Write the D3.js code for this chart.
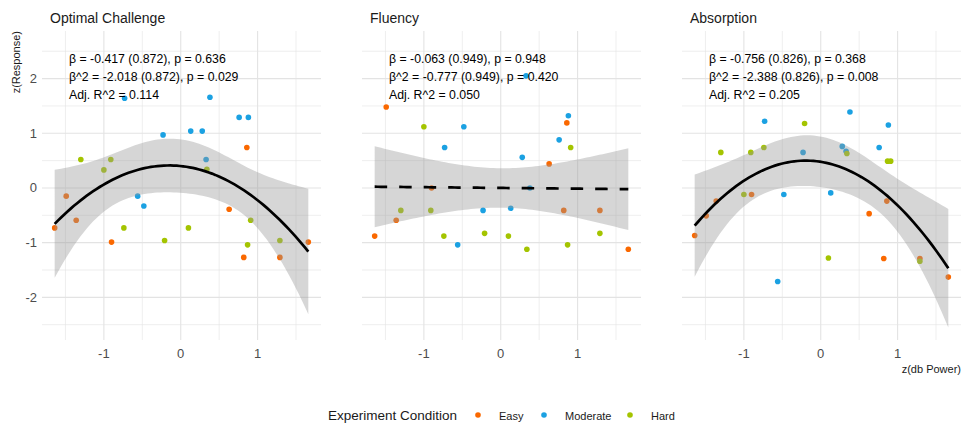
<!DOCTYPE html>
<html>
<head>
<meta charset="utf-8">
<script src="https://cdn.jsdelivr.net/npm/d3@7"></script>
<style>
  body { margin: 0; background: #fff; }
  text { font-family: "Liberation Sans", Arial, sans-serif; }
</style>
</head>
<body>
<svg id="chart" width="963" height="426"></svg>
<script>
// x (z dB power) per condition, shared by every panel
const easyX = [-1.64, -1.49, -1.36, -0.90, 0.63, 0.82, 0.86, 1.29, 1.66];
const moderateX = [-0.73, -0.56, -0.48, -0.23, 0.13, 0.28, 0.33, 0.38, 0.76, 0.88];
const hardX = [-1.30, -1.00, -0.91, -0.74, -0.21, 0.10, 0.34, 0.87, 0.91, 1.29];

// responses, same order as the x arrays
const challengeEasy = [-0.73, -0.15, -0.59, -0.99, -0.39, -1.27, 0.74, -1.27, -0.99];
const challengeModerate = [1.64, -0.15, -0.33, 0.97, 1.04, 1.04, 0.52, 1.66, 1.29, 1.29];
const challengeHard = [0.52, 0.33, 0.52, -0.73, -0.96, -0.73, 0.34, -1.04, -0.59, -0.96];

const fluencyEasy = [-0.88, 1.48, -0.59, 0.0, 0.44, -0.41, 1.19, -0.41, -1.12];
const fluencyModerate = [0.74, -1.04, 1.12, -0.41, -0.37, 0.56, 2.05, 0.0, 0.88, 1.32];
const fluencyHard = [-0.41, 1.12, -0.41, -0.88, -0.83, -0.88, -1.12, -1.04, 0.74, -0.83];

const absorptionEasy = [-0.87, -0.51, -0.24, -0.12, -0.47, -1.29, -0.24, -1.29, -1.63];
const absorptionModerate = [1.22, -1.71, -0.12, 0.65, -0.09, 0.76, 0.67, 1.39, 0.74, 1.15];
const absorptionHard = [0.65, -0.12, 0.65, 0.74, 1.18, -1.28, 0.63, 0.49, 0.49, -1.34];

const panelTitles = ['Optimal Challenge', 'Fluency', 'Absorption'];
const panelNotes = [
  ['β = -0.417 (0.872), p = 0.636', 'β^2 = -2.018 (0.872), p = 0.029', 'Adj. R^2 = 0.114'],
  ['β = -0.063 (0.949), p = 0.948', 'β^2 = -0.777 (0.949), p = 0.420', 'Adj. R^2 = 0.050'],
  ['β = -0.756 (0.826), p = 0.368', 'β^2 = -2.388 (0.826), p = 0.008', 'Adj. R^2 = 0.205']
];
// non-significant panel gets a dashed straight fit
const panelDegree = [2, 1, 2];
const panelDashed = [false, true, false];

const conditions = ['Easy', 'Moderate', 'Hard'];
const conditionColors = ['#FA6800', '#1BA1E2', '#A4C400'];

const xTicks = [-1, 0, 1];
const yTicks = [-2, -1, 0, 1, 2];

const panels = [
  [challengeEasy, challengeModerate, challengeHard],
  [fluencyEasy, fluencyModerate, fluencyHard],
  [absorptionEasy, absorptionModerate, absorptionHard]
];

const svg = d3.select('#chart');
const panelStep = 320;
const x = d3.scaleLinear().domain([-1.805, 1.825]).range([42, 321]);
const y = d3.scaleLinear().domain([-2.78, 2.87]).range([340, 31]);
const color = d3.scaleOrdinal().domain(conditions).range(conditionColors);

// 97.5% t quantiles by residual df
const tQuant = { 26: 2.0555, 27: 2.0518 };

function invert(m) {
  const n = m.length;
  const a = m.map((r, i) => r.concat(d3.range(n).map(j => (i === j ? 1 : 0))));
  for (let c = 0; c < n; c++) {
    let p = c;
    for (let r = c + 1; r < n; r++) if (Math.abs(a[r][c]) > Math.abs(a[p][c])) p = r;
    [a[c], a[p]] = [a[p], a[c]];
    const pv = a[c][c];
    for (let j = 0; j < 2 * n; j++) a[c][j] /= pv;
    for (let r = 0; r < n; r++) {
      if (r === c) continue;
      const f = a[r][c];
      for (let j = 0; j < 2 * n; j++) a[r][j] -= f * a[c][j];
    }
  }
  return a.map(r => r.slice(n));
}

// least squares polynomial with 95% band, like geom_smooth(method = lm)
function polyFit(pts, deg) {
  const k = deg + 1;
  const row = xv => d3.range(k).map(i => xv ** i);
  const A = d3.range(k).map(() => new Array(k).fill(0));
  const b = new Array(k).fill(0);
  pts.forEach(p => {
    const r = row(p.x);
    for (let i = 0; i < k; i++) {
      b[i] += r[i] * p.y;
      for (let j = 0; j < k; j++) A[i][j] += r[i] * r[j];
    }
  });
  const inv = invert(A);
  const beta = d3.range(k).map(i => d3.sum(d3.range(k), j => inv[i][j] * b[j]));
  const pred = xv => d3.sum(row(xv), (v, i) => v * beta[i]);
  const df = pts.length - k;
  const s2 = d3.sum(pts, p => (p.y - pred(p.x)) ** 2) / df;
  const t = tQuant[df];
  const [lo, hi] = d3.extent(pts, p => p.x);
  return d3.range(80).map(s => {
    const xv = lo + (hi - lo) * s / 79;
    const r = row(xv);
    let v = 0;
    for (let i = 0; i < k; i++) for (let j = 0; j < k; j++) v += r[i] * inv[i][j] * r[j];
    const se = Math.sqrt(s2 * v);
    const f = pred(xv);
    return { x: xv, y: f, lo: f - t * se, hi: f + t * se };
  });
}

const xsByCond = [easyX, moderateX, hardX];

panels.forEach((series, pi) => {
  const g = svg.append('g').attr('transform', `translate(${pi * panelStep},0)`);
  const pts = [];
  series.forEach((ys, ci) => {
    ys.forEach((v, k) => pts.push({ x: xsByCond[ci][k], y: v, cond: conditions[ci] }));
  });

  // grid
  const grid = g.append('g');
  grid.selectAll('.h').data(d3.range(-2.5, 3, 0.5))
    .join('line')
    .attr('x1', x.range()[0]).attr('x2', x.range()[1])
    .attr('y1', d => y(d)).attr('y2', d => y(d))
    .attr('stroke', '#e3e3e3')
    .attr('stroke-width', d => Number.isInteger(d) ? 1.1 : 0.6);
  grid.selectAll('.v').data(d3.range(-1.5, 2, 0.5))
    .join('line')
    .attr('y1', y.range()[0]).attr('y2', y.range()[1])
    .attr('x1', d => x(d)).attr('x2', d => x(d))
    .attr('stroke', '#e3e3e3')
    .attr('stroke-width', d => Number.isInteger(d) ? 1.1 : 0.6);

  // tick labels
  g.selectAll('.xt').data(xTicks).join('text')
    .attr('x', d => x(d)).attr('y', 358)
    .attr('text-anchor', 'middle')
    .attr('font-size', 13).attr('fill', '#4d4d4d')
    .text(d => d);
  if (pi === 0) {
    g.selectAll('.yt').data(yTicks).join('text')
      .attr('x', 37).attr('y', d => y(d) + 4.5)
      .attr('text-anchor', 'end')
      .attr('font-size', 13).attr('fill', '#4d4d4d')
      .text(d => d);
  }

  // points
  g.append('g').selectAll('circle').data(pts).join('circle')
    .attr('cx', d => x(d.x)).attr('cy', d => y(d.y))
    .attr('r', 2.8)
    .attr('fill', d => color(d.cond));

  // smooth
  const fit = polyFit(pts, panelDegree[pi]);
  g.append('path').datum(fit)
    .attr('d', d3.area().x(d => x(d.x)).y0(d => y(d.lo)).y1(d => y(d.hi)))
    .attr('fill', '#999999').attr('fill-opacity', 0.4);
  g.append('path').datum(fit)
    .attr('d', d3.line().x(d => x(d.x)).y(d => y(d.y)))
    .attr('fill', 'none').attr('stroke', '#000')
    .attr('stroke-width', 2.7)
    .attr('stroke-dasharray', panelDashed[pi] ? '12.5,12' : null);

  // title and notes
  g.append('text').attr('x', 50).attr('y', 23)
    .attr('font-size', 14).attr('fill', '#1a1a1a')
    .text(panelTitles[pi]);
  g.append('g').selectAll('text').data(panelNotes[pi]).join('text')
    .attr('x', 69).attr('y', (d, i) => 63 + i * 17.8)
    .attr('font-size', 12.3).attr('fill', '#000')
    .text(d => d);
});

// axis titles
svg.append('text')
  .attr('transform', 'translate(20,31) rotate(-90)')
  .attr('text-anchor', 'end')
  .attr('font-size', 11).attr('fill', '#1a1a1a')
  .text('z(Response)');
svg.append('text')
  .attr('x', 961).attr('y', 373)
  .attr('text-anchor', 'end')
  .attr('font-size', 11).attr('fill', '#1a1a1a')
  .text('z(db Power)');

// legend
const legend = svg.append('g');
legend.append('text').attr('x', 328).attr('y', 419.5)
  .attr('font-size', 13.5).attr('fill', '#1a1a1a')
  .text('Experiment Condition');
const legendDotX = [478, 544, 630];
const items = legend.selectAll('.item').data(conditions).join('g');
items.append('circle')
  .attr('cx', (d, i) => legendDotX[i]).attr('cy', 415)
  .attr('r', 2.8).attr('fill', d => color(d));
items.append('text')
  .attr('x', (d, i) => legendDotX[i] + 21).attr('y', 419.5)
  .attr('font-size', 11).attr('fill', '#1a1a1a')
  .text(d => d);
</script>
</body>
</html>
